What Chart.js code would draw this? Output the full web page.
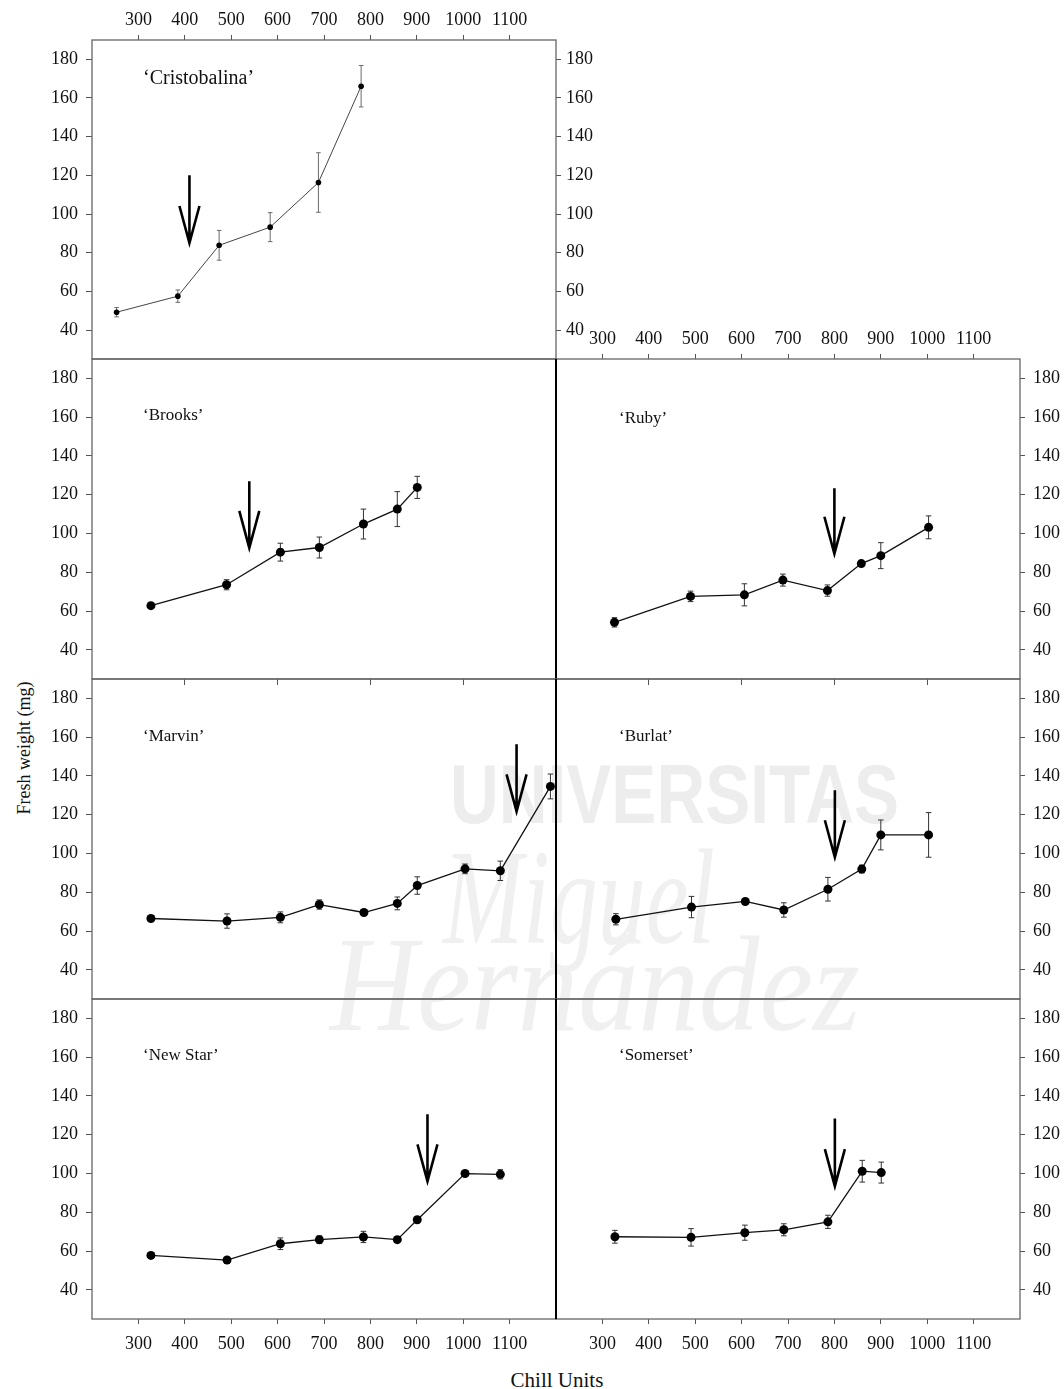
<!DOCTYPE html>
<html>
<head>
<meta charset="utf-8">
<title>Fresh weight vs chill units</title>
<script src="https://cdn.jsdelivr.net/npm/chart.js@4.4.0/dist/chart.umd.min.js"></script>
<style>
  html, body { margin: 0; padding: 0; background: #fff; }
  #fig { position: relative; width: 1064px; height: 1389px; overflow: hidden;
         font-family: 'Liberation Serif', 'Times New Roman', serif; color: #111; }
  #fig canvas { position: absolute; left: 0; top: 0; }
  #wm { position: absolute; left: 0; top: 0; }
  .ttl { position: absolute; white-space: nowrap; transform: translate(-50%, -50%); }
  #ylab { font-size: 18px; transform: translate(-50%, -50%) rotate(-90deg); }
  #xlab { font-size: 21px; }
</style>
</head>
<body>
<div id="fig">
  <svg id="wm" width="1064" height="1389">
    <text x="450" y="823" textLength="449" lengthAdjust="spacingAndGlyphs" font-family="Liberation Sans" font-weight="bold" font-size="84" fill="#ededed">UNIVERSITAS</text>
    <text x="443" y="943" textLength="272" lengthAdjust="spacingAndGlyphs" font-family="Liberation Serif" font-style="italic" font-size="135" fill="#f0f0f0">Miguel</text>
    <text x="330" y="1030" textLength="530" lengthAdjust="spacingAndGlyphs" font-family="Liberation Serif" font-style="italic" font-size="135" fill="#f0f0f0">Hernández</text>
  </svg>
  <div class="ttl" id="ylab" style="left:24px;top:748px">Fresh weight (mg)</div>
  <div class="ttl" id="xlab" style="left:557px;top:1380px">Chill Units</div>
</div>
<script>
// shared axes
const xTickValues = [300, 400, 500, 600, 700, 800, 900, 1000, 1100]
const yTickValues = [40, 60, 80, 100, 120, 140, 160, 180]
const innerTickValues = [400, 600, 800, 1000]

// chill units (CU), fresh weight (FW, mg), error (SE) per cultivar
const cristobalinaCU = [253, 385, 474, 584, 688, 780]
const cristobalinaFW = [49.2, 57.5, 83.8, 93.2, 116.3, 166.1]
const cristobalinaSE = [2.4, 3.2, 7.7, 7.5, 15.4, 10.7]

const brooksCU = [327, 490, 606, 690, 785, 858, 901]
const brooksFW = [62.8, 73.6, 90.4, 92.8, 104.9, 112.6, 123.8]
const brooksSE = [1.5, 2.6, 4.6, 5.4, 7.7, 9, 5.7]

const rubyCU = [326, 490, 606, 689, 785, 858, 900, 1003]
const rubyFW = [54.2, 67.6, 68.4, 76, 70.6, 84.5, 88.6, 103.2]
const rubySE = [2.4, 2.7, 5.7, 3.1, 2.9, 1, 6.7, 5.9]

const marvinCU = [327, 491, 606, 690, 786, 858, 901, 1004, 1080, 1188]
const marvinFW = [66.5, 65.2, 67.1, 73.7, 69.6, 74.3, 83.5, 92.1, 91.1, 134.6]
const marvinSE = [1, 3.7, 2.8, 2.4, 1, 3.3, 4.5, 2.5, 5, 6.4]

const burlatCU = [329, 492, 608, 691, 786, 859, 900, 1003]
const burlatFW = [66.1, 72.4, 75.3, 70.9, 81.6, 92, 109.6, 109.6]
const burlatSE = [2.9, 5.5, 1.5, 3.7, 6.1, 2, 7.7, 11.5]

const newStarCU = [327, 491, 606, 690, 785, 858, 901, 1004, 1080]
const newStarFW = [57.8, 55.4, 63.8, 65.9, 67.3, 65.9, 76.2, 100, 99.6]
const newStarSE = [1.5, 1, 3, 2, 2.9, 1.5, 1.5, 1, 2.4]

const somersetCU = [327, 491, 607, 691, 786, 860, 901]
const somersetFW = [67.4, 67.1, 69.5, 71, 75.1, 101.2, 100.5]
const somersetSE = [3.3, 4.5, 3.9, 3.1, 3.4, 5.6, 5.4]

// arrows: [chill units, top of shaft, tip] in data units
const cristobalinaArrow = [410, 120, 85]
const brooksArrow = [539, 127, 92.6]
const rubyArrow = [800, 123.4, 89.6]
const marvinArrow = [1115, 156.3, 121.7]
const burlatArrow = [801, 132.6, 98.1]
const newStarArrow = [923, 130.6, 96]
const somersetArrow = [801, 128.4, 93.5]

const W = 1064, H = 1389
const SERIF = "'Liberation Serif', 'Times New Roman', serif"
Chart.defaults.font.family = SERIF
Chart.defaults.font.size = 18
Chart.defaults.color = '#111'

// layout: box = [left, top, right, bottom] of each plot area
const panels = [
  { name: '\u2018Cristobalina\u2019', cu: cristobalinaCU, fw: cristobalinaFW, se: cristobalinaSE, arrow: cristobalinaArrow,
    box: [92, 40, 556, 359], left: true, right: 40, top: 40, small: true, label: [51, 39, 20] },
  { name: '\u2018Brooks\u2019', cu: brooksCU, fw: brooksFW, se: brooksSE, arrow: brooksArrow,
    box: [92, 359, 556, 679], left: true, label: [51, 57, 17] },
  { name: '\u2018Ruby\u2019', cu: rubyCU, fw: rubyFW, se: rubySE, arrow: rubyArrow,
    box: [556, 359, 1020, 679], right: 44, top: 30, divider: true, label: [63, 60, 17] },
  { name: '\u2018Marvin\u2019', cu: marvinCU, fw: marvinFW, se: marvinSE, arrow: marvinArrow,
    box: [92, 679, 556, 999], left: true, inner: true, label: [51, 58, 17] },
  { name: '\u2018Burlat\u2019', cu: burlatCU, fw: burlatFW, se: burlatSE, arrow: burlatArrow,
    box: [556, 679, 1020, 999], right: 44, inner: true, divider: true, label: [63, 58, 17] },
  { name: '\u2018New Star\u2019', cu: newStarCU, fw: newStarFW, se: newStarSE, arrow: newStarArrow,
    box: [92, 999, 556, 1319], left: true, bottom: 50, label: [51, 57, 17] },
  { name: '\u2018Somerset\u2019', cu: somersetCU, fw: somersetFW, se: somersetSE, arrow: somersetArrow,
    box: [556, 999, 1020, 1319], right: 44, bottom: 50, divider: true, label: [63, 57, 17] }
]

const X_MIN = 200, X_MAX = 1200, Y_MIN = 25, Y_MAX = 190
const LEFT_W = 52

function axis(position, isX, vals, size, o) {
  return {
    type: 'linear', position,
    min: isX ? X_MIN : Y_MIN, max: isX ? X_MAX : Y_MAX,
    display: o.display !== false,
    afterBuildTicks: s => { s.ticks = vals.map(v => ({ value: v })) },
    afterFit: s => { if (isX) s.height = size; else s.width = size },
    grid: { drawOnChartArea: false, drawTicks: true, tickLength: o.tl, color: '#555', lineWidth: 1 },
    border: { display: false },
    ticks: { display: o.labels, autoSkip: false, maxRotation: 0, padding: o.pad || 0,
             color: '#111', font: { family: SERIF, size: 18 }, callback: v => String(v) }
  }
}

function overlay(p) {
  return {
    id: 'overlay',
    beforeDatasetsDraw(chart) {
      const { ctx, scales: { x, y } } = chart
      const cap = p.small ? 2.3 : 2.8
      ctx.save()
      ctx.strokeStyle = p.small ? '#6a6a6a' : '#333'
      ctx.lineWidth = 1
      p.cu.forEach((cu, i) => {
        const px = x.getPixelForValue(cu)
        const hi = y.getPixelForValue(p.fw[i] + p.se[i])
        const lo = y.getPixelForValue(p.fw[i] - p.se[i])
        ctx.beginPath()
        ctx.moveTo(px, hi); ctx.lineTo(px, lo)
        ctx.moveTo(px - cap, hi); ctx.lineTo(px + cap, hi)
        ctx.moveTo(px - cap, lo); ctx.lineTo(px + cap, lo)
        ctx.stroke()
      })
      ctx.restore()
    },
    afterDraw(chart) {
      const { ctx, chartArea: a, scales: { x, y } } = chart
      ctx.save()
      // panel frame
      ctx.strokeStyle = '#666'
      ctx.lineWidth = 1.3
      ctx.strokeRect(a.left, a.top, a.right - a.left, a.bottom - a.top)
      if (p.divider) {
        ctx.strokeStyle = '#000'
        ctx.lineWidth = 2
        ctx.beginPath(); ctx.moveTo(a.left, a.top); ctx.lineTo(a.left, a.bottom); ctx.stroke()
      }
      // arrow
      const [acu, atop, atip] = p.arrow
      const ax = x.getPixelForValue(acu)
      const y0 = y.getPixelForValue(atop), y1 = y.getPixelForValue(atip)
      ctx.strokeStyle = '#000'
      ctx.lineWidth = 2.6
      ctx.beginPath()
      ctx.moveTo(ax, y0); ctx.lineTo(ax, y1)
      ctx.moveTo(ax - 10, y1 - 37); ctx.lineTo(ax, y1); ctx.lineTo(ax + 10, y1 - 37)
      ctx.stroke()
      // cultivar name
      const [dx, dy, size] = p.label
      ctx.fillStyle = '#111'
      ctx.font = `${size}px ${SERIF}`
      ctx.textAlign = 'left'
      ctx.textBaseline = 'middle'
      ctx.fillText(p.name, a.left + dx, a.top + dy)
      ctx.restore()
    }
  }
}

const fig = document.getElementById('fig')

panels.forEach(p => {
  const [l, t, r, b] = p.box
  const canvas = document.createElement('canvas')
  canvas.width = W; canvas.height = H
  fig.appendChild(canvas)

  const scales = {
    x: p.bottom
      ? axis('bottom', true, xTickValues, p.bottom, { tl: 5, pad: 9, labels: true })
      : axis('bottom', true, xTickValues, 0, { display: false }),
    y: p.left
      ? axis('left', false, yTickValues, LEFT_W, { tl: 6, pad: 8, labels: true })
      : axis('left', false, yTickValues, 0, { display: false })
  }
  if (p.top) scales.xt = axis('top', true, xTickValues, p.top, { tl: 5, pad: 4, labels: true })
  if (p.inner) scales.xi = axis('top', true, innerTickValues, 0, { tl: -6, labels: false })
  if (p.right) scales.yr = axis('right', false, yTickValues, p.right, { tl: 5, pad: p.small ? 5 : 8, labels: true })

  const padding = {
    left: p.left ? l - LEFT_W : l,
    right: W - r - (p.right || 0),
    top: t - (p.top || 0),
    bottom: H - b - (p.bottom || 0)
  }

  new Chart(canvas, {
    type: 'scatter',
    data: {
      datasets: [{
        data: p.cu.map((cu, i) => ({ x: cu, y: p.fw[i] })),
        showLine: true,
        borderColor: p.small ? '#444' : '#111',
        borderWidth: p.small ? 1 : 1.3,
        pointRadius: p.small ? 2.8 : 4.5,
        pointBackgroundColor: '#000',
        pointBorderWidth: 0,
        tension: 0
      }]
    },
    options: {
      responsive: false,
      animation: false,
      layout: { padding },
      plugins: { legend: { display: false }, tooltip: { enabled: false } },
      scales
    },
    plugins: [overlay(p)]
  })
})
</script>
</body>
</html>
